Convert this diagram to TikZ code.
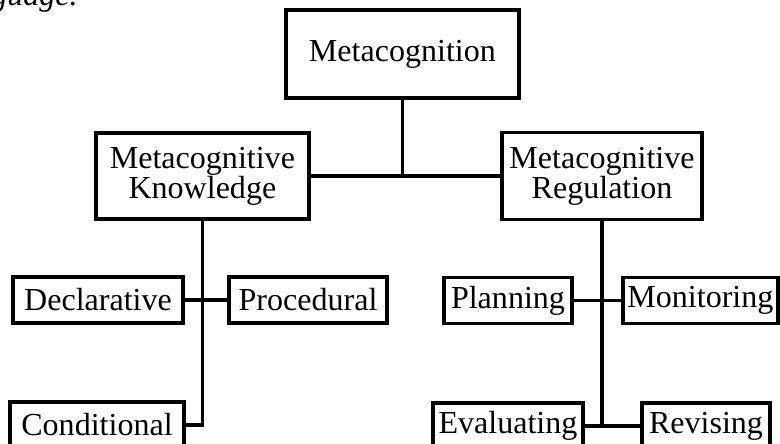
\documentclass[tikz,border=0pt]{standalone}
\usepackage{fontspec}
\setmainfont{Liberation Serif}
\begin{document}
\begin{tikzpicture}[
	kasten/.style={draw, line width=2.5pt, inner sep=0pt, align=center, font=\fontsize{22.8pt}{21.5pt}\selectfont},
	linie/.style={line width=2.5pt}
	]
	
	
	% Rahmen des Bildes
	\useasboundingbox (0,0) rectangle (19.5,11.075);
	
	% Rest der Zeile darueber
	\node[anchor=base west, inner sep=0pt, font=\fontsize{22.8pt}{21.5pt}\selectfont\itshape] (zeile) at (-0.225,10.94) {guage.};
	
	
	% Oberste Ebene
	\node[kasten, minimum width=5.825cm, minimum height=2.2cm] (meta) at (10.06,9.725) {Metacognition};
	
	% Zweite Ebene
	\node[kasten, minimum width=5.325cm, minimum height=2.15cm] (know) at (5.06,6.675) {Metacognitive\\Knowledge};
	\node[kasten, minimum width=5cm, minimum height=2.175cm] (reg) at (15.05,6.675) {Metacognitive\\Regulation};
	
	% Blaetter links
	\node[kasten, minimum width=4.25cm, minimum height=1.15cm] (decl) at (2.45,3.575) {Declarative};
	\node[kasten, minimum width=3.95cm, minimum height=1.15cm] (proc) at (7.7,3.575) {Procedural};
	\node[kasten, minimum width=4.35cm, minimum height=1.15cm] (cond) at (2.425,0.45) {Conditional};
	
	% Blaetter rechts
	\node[kasten, minimum width=3.2cm, minimum height=1.15cm] (plan) at (12.7,3.56) {Planning};
	\node[kasten, minimum width=3.875cm, minimum height=1.15cm] (mon) at (17.51,3.56) {Monitoring};
	\node[kasten, minimum width=3.75cm, minimum height=1.15cm] (eval) at (12.7,0.425) {Evaluating};
	\node[kasten, minimum width=3.2cm, minimum height=1.15cm] (rev) at (17.65,0.425) {Revising};
	
	
	% Verbindungen
	\draw[linie] (meta) -- (meta |- know.east);
	\draw[linie] (know) -- (reg);
	%
	\draw[linie] (know) -- (know |- cond.east) -- (cond);
	\draw[linie] (decl) -- (proc);
	%
	\draw[linie] (reg) -- (reg |- eval.east);
	\draw[linie] (plan) -- (mon);
	\draw[linie] (eval) -- (rev);
	
	
\end{tikzpicture}
\end{document}
